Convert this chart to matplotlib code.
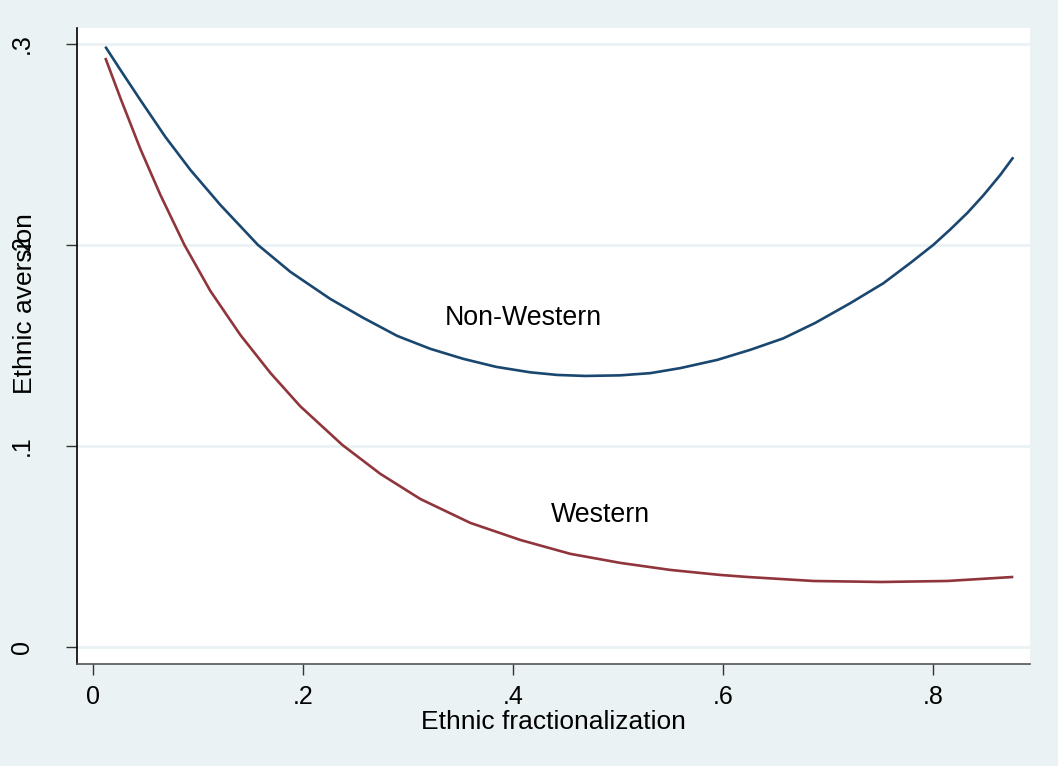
import matplotlib
matplotlib.use("Agg")
import matplotlib.pyplot as plt

plt.rcParams['font.family'] = ['Liberation Sans', 'DejaVu Sans']

# values
frac_nonwest = [0.0117, 0.0260, 0.0450, 0.0689, 0.0927, 0.1212, 0.1570, 0.1879,
                0.2260, 0.2574, 0.2898, 0.3212, 0.3527, 0.3841, 0.4165, 0.4422,
                0.4689, 0.5022, 0.5308, 0.5593, 0.5946, 0.6260, 0.6574, 0.6879,
                0.7212, 0.7527, 0.7784, 0.8003, 0.8165, 0.8327, 0.8479, 0.8641,
                0.8765]
aver_nonwest = [0.2986, 0.2871, 0.2721, 0.2537, 0.2373, 0.2199, 0.2000, 0.1866,
                0.1731, 0.1637, 0.1547, 0.1483, 0.1433, 0.1393, 0.1366, 0.1353,
                0.1348, 0.1351, 0.1362, 0.1387, 0.1428, 0.1478, 0.1535, 0.1612,
                0.1710, 0.1809, 0.1910, 0.2000, 0.2077, 0.2159, 0.2246, 0.2348,
                0.2436]

frac_west = [0.0117, 0.0260, 0.0450, 0.0641, 0.0870, 0.1117, 0.1403, 0.1689,
             0.1974, 0.2374, 0.2736, 0.3117, 0.3593, 0.4070, 0.4546, 0.5022,
             0.5498, 0.5974, 0.6231, 0.6860, 0.7508, 0.8136, 0.8765]
aver_west = [0.2930, 0.2731, 0.2478, 0.2249, 0.2000, 0.1771, 0.1552, 0.1363,
             0.1197, 0.1005, 0.0861, 0.0736, 0.0617, 0.0532, 0.0463, 0.0418,
             0.0383, 0.0358, 0.0348, 0.0328, 0.0323, 0.0328, 0.0348]

x_ticks = [0, 0.2, 0.4, 0.6, 0.8]
x_ticklabels = ['0', '.2', '.4', '.6', '.8']
y_ticks = [0, 0.1, 0.2, 0.3]
y_ticklabels = ['0', '.1', '.2', '.3']

bg = '#eaf2f3'
fig = plt.figure(figsize=(10.58, 7.66), dpi=100, facecolor=bg)
ax = fig.add_axes([77/1058, 1-664/766, (1030-77)/1058, (664-28)/766])
ax.set_facecolor('white')

ax.plot(frac_nonwest, aver_nonwest, color='#1a476f', lw=1.9,
        solid_capstyle='butt', solid_joinstyle='round')
ax.plot(frac_west, aver_west, color='#90353b', lw=1.9,
        solid_capstyle='butt', solid_joinstyle='round')

ax.text(0.4098, 0.1602, 'Non-Western', fontsize=19.3, ha='center', va='baseline')
ax.text(0.4831, 0.0623, 'Western', fontsize=19.3, ha='center', va='baseline')

ax.set_xlim(-0.0153, 0.8924)
ax.set_ylim(-0.0085, 0.3079)

ax.set_xticks(x_ticks)
ax.set_xticklabels(x_ticklabels, fontsize=18)
ax.set_yticks(y_ticks)
ax.set_yticklabels(y_ticklabels, fontsize=18, rotation=90, va='center')

ax.grid(axis='y', color=bg, lw=2)
ax.set_axisbelow(True)

for s in ['top', 'right']:
    ax.spines[s].set_visible(False)
ax.spines['left'].set_color('black')
ax.spines['bottom'].set_color('#555555')
ax.spines['left'].set_linewidth(1.2)
ax.spines['bottom'].set_linewidth(1.2)
ax.tick_params(axis='both', length=8, width=1, color='#333333')
ax.tick_params(axis='y', pad=23)
ax.tick_params(axis='x', pad=7)

ax.set_xlabel('Ethnic fractionalization', fontsize=19, labelpad=1)
ax.set_ylabel('Ethnic aversion', fontsize=19)
ax.yaxis.set_label_coords(-40/953, (664-304)/636)

fig.savefig('out.png', dpi=100, facecolor=bg)
